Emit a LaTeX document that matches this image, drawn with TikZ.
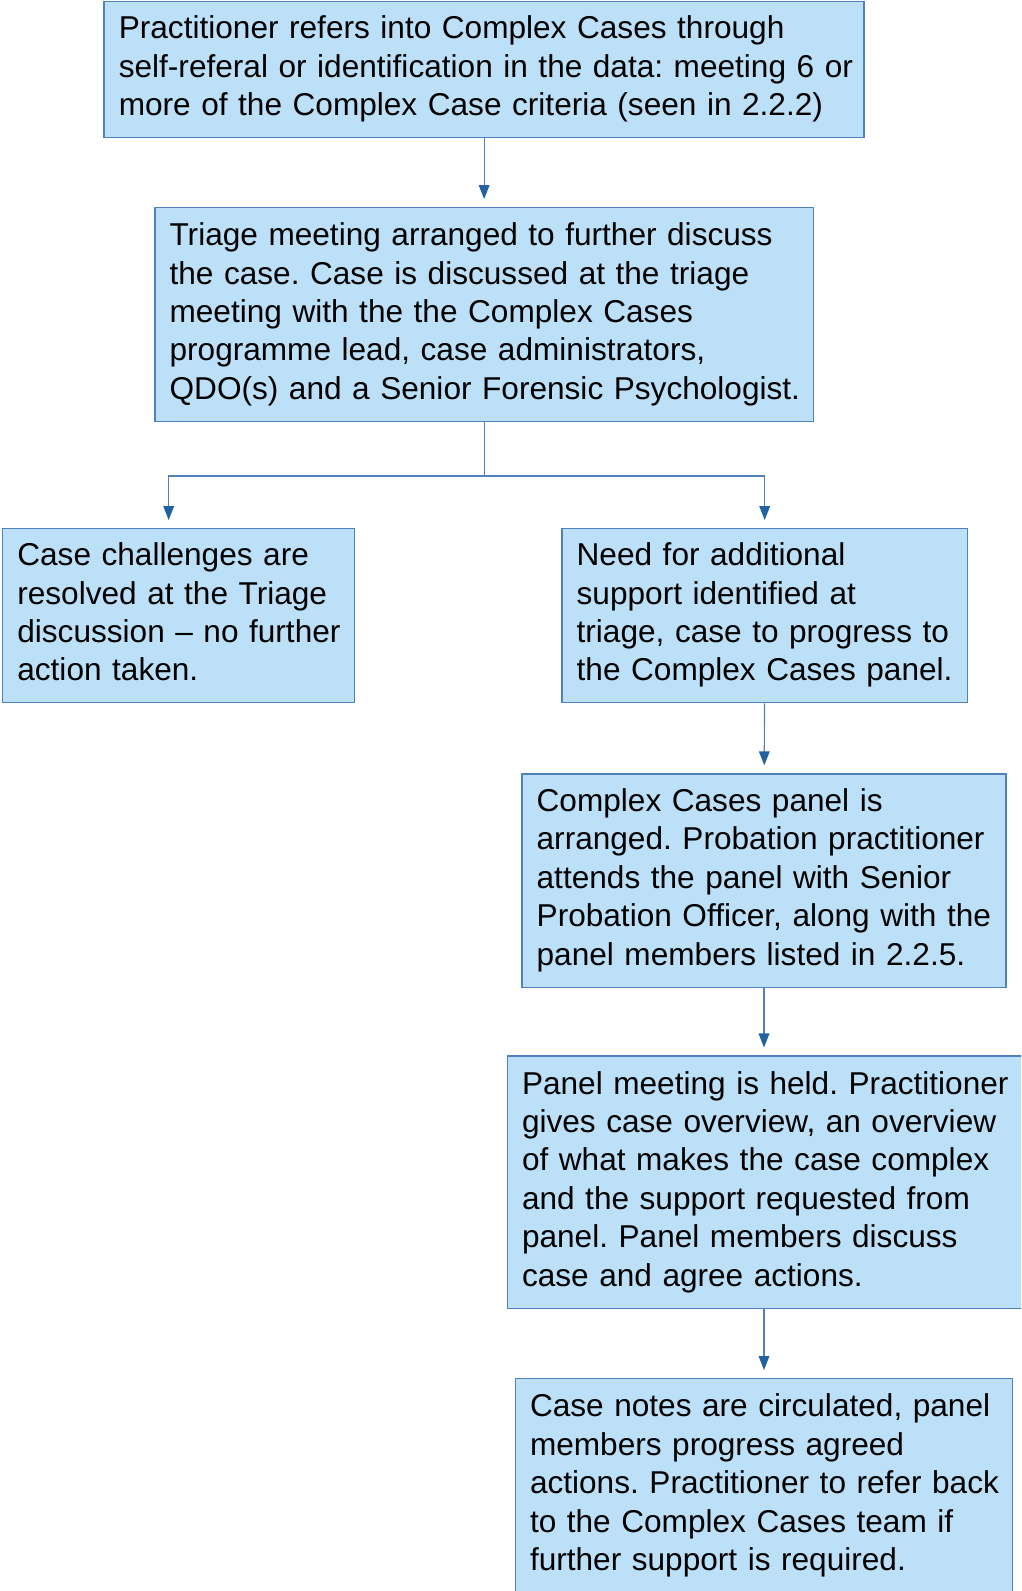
\documentclass[tikz,border=0pt]{standalone}
\usepackage{fontspec}
\setmainfont{Liberation Sans}
\usepackage{tikz}
\usetikzlibrary{arrows.meta, positioning}

\definecolor{boxfill}{RGB}{187,224,248}
\definecolor{boxline}{RGB}{79,129,189}
\definecolor{tipblue}{RGB}{35,98,160}

% one box of the flow, lines kept as written
\newcommand{\boxlines}[1]{\begin{tabular}{@{}l@{}}#1\end{tabular}}

\tikzset{
  box/.style={draw=boxline, fill=boxfill, line width=1pt, anchor=north west,
    align=left, inner xsep=11pt, inner ysep=0pt,
    font=\fontsize{23.7}{28.8}\selectfont\frenchspacing},
  conn/.style={draw=boxline, line width=0.9pt},
  arrow/.style={conn, -{Triangle[length=10.5pt, width=8pt, color=tipblue]}, shorten >=6pt}
}

\begin{document}
\begin{tikzpicture}
    \useasboundingbox (0,0) rectangle (765.75pt,-1193.25pt);
    \clip (0,0) rectangle (765.75pt,-1193.25pt);
    \node[box, minimum width=570pt, minimum height=102pt, text width=548pt] (refer) at (77.6pt,-0.75pt)
        {\boxlines{Practitioner refers into Complex Cases through\\self-referal or identification in the data: meeting 6 or\\more of the Complex Case criteria (seen in 2.2.2)}};
    \node[box, minimum width=494pt, minimum height=160.5pt, text width=472pt] (triage) at (115.7pt,-155.3pt)
        {\boxlines{Triage meeting arranged to further discuss\\the case. Case is discussed at the triage\\meeting with the the Complex Cases\\programme lead, case administrators,\\QDO(s) and a Senior Forensic Psychologist.}};
    \node[box, minimum width=264pt, minimum height=130.5pt, text width=242pt] (resolved) at (1.5pt,-396pt)
        {\boxlines{Case challenges are\\resolved at the Triage\\discussion -- no further\\action taken.}};
    \node[box, minimum width=304pt, minimum height=130.5pt, text width=282pt] (support) at (421pt,-396pt)
        {\boxlines{Need for additional\\support identified at\\triage, case to progress to\\the Complex Cases panel.}};
    \node[box, minimum width=363pt, minimum height=160pt, text width=341pt] (arranged) at (391pt,-580pt)
        {\boxlines{Complex Cases panel is\\arranged. Probation practitioner\\attends the panel with Senior\\Probation Officer, along with the\\panel members listed in 2.2.5.}};
    \node[box, minimum width=392pt, minimum height=189.5pt, text width=370pt] (meeting) at (380pt,-791.6pt)
        {\boxlines{Panel meeting is held. Practitioner\\gives case overview, an overview\\of what makes the case complex\\and the support requested from\\panel. Panel members discuss\\case and agree actions.}};
    \node[box, minimum width=373pt, minimum height=161pt, text width=351pt] (notes) at (386pt,-1033.5pt)
        {\boxlines{Case notes are circulated, panel\\members progress agreed\\actions. Practitioner to refer back\\to the Complex Cases team if\\further support is required.}};

    \coordinate (split) at ([yshift=-40.2pt]triage.south);
    \draw[arrow] (refer.south) -- (refer.south |- triage.north);
    \draw[conn] (triage.south) -- (split);
    \draw[arrow] (split) -| ([xshift=-7.5pt]resolved.north);
    \draw[arrow] (split) -| (support.north);
    \draw[arrow] (support) -- (arranged);
    \draw[arrow] (arranged.south) -- (arranged.south |- meeting.north);
    \draw[arrow] (meeting.south -| arranged.south) -- (arranged.south |- notes.north);
\end{tikzpicture}
\end{document}
